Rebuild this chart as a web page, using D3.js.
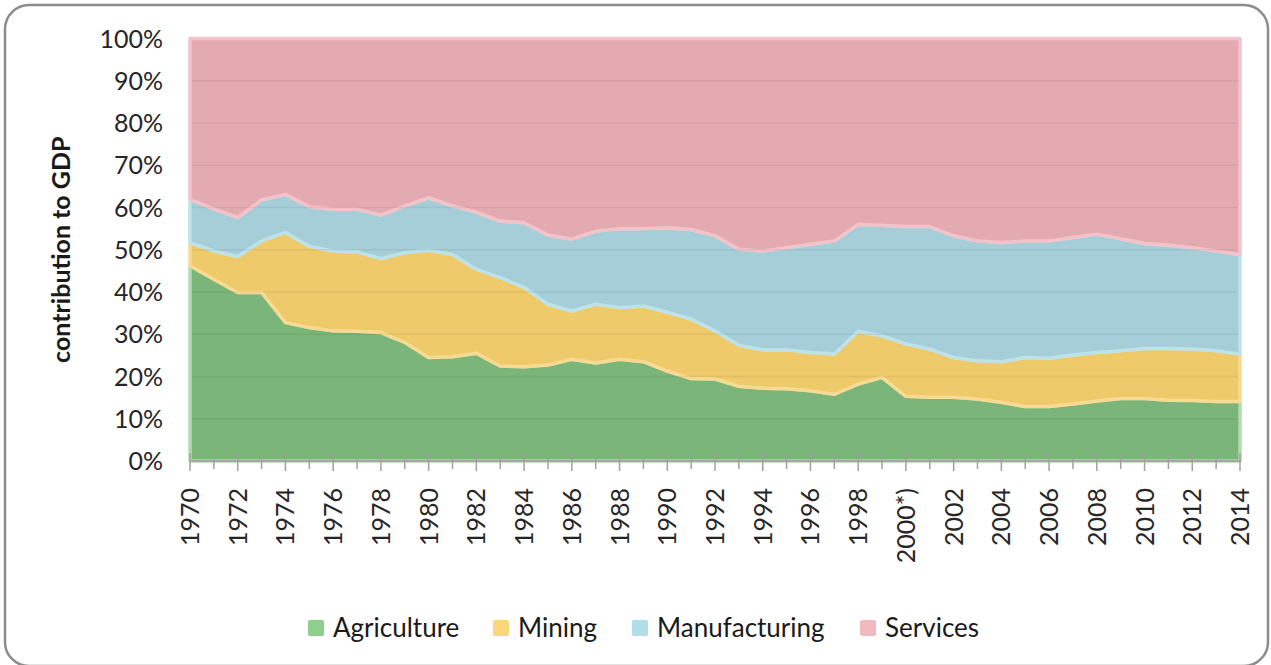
<!DOCTYPE html>
<html>
<head>
<meta charset="utf-8">
<script src="https://cdn.jsdelivr.net/npm/d3@7"></script>
<style>
  body { margin: 0; background: #fff; }
  svg { display: block; font-family: Lato, "Liberation Sans", sans-serif; }
</style>
</head>
<body>
<div id="chart"></div>
<script>
// sector shares of GDP, %
var years = [1970,1971,1972,1973,1974,1975,1976,1977,1978,1979,
             1980,1981,1982,1983,1984,1985,1986,1987,1988,1989,
             1990,1991,1992,1993,1994,1995,1996,1997,1998,1999,
             2000,2001,2002,2003,2004,2005,2006,2007,2008,2009,
             2010,2011,2012,2013,2014];
var agriculture = [46.2,43.0,39.9,39.9,32.8,31.6,30.8,30.7,30.4,28.1,
                   24.5,24.7,25.5,22.5,22.3,22.7,24.1,23.2,24.1,23.5,
                   21.3,19.5,19.4,17.7,17.2,17.1,16.6,15.8,18.2,19.8,
                   15.3,15.1,15.1,14.7,13.9,12.9,12.9,13.5,14.2,14.8,
                   14.8,14.4,14.3,14.1,14.1];
var mining = [5.5,6.7,8.5,12.2,21.3,19.2,18.9,18.8,17.5,21.2,
              25.4,24.2,19.9,20.9,18.8,14.4,11.4,13.9,12.2,13.2,
              13.9,14.1,11.4,9.7,9.1,9.2,9.1,9.5,12.5,9.8,
              12.4,11.4,9.4,9.0,9.6,11.6,11.4,11.6,11.5,11.3,
              11.8,12.2,12.2,12.0,11.2];
var manufacturing = [10.2,10.0,9.2,9.7,9.0,9.4,9.9,10.1,10.3,11.1,
                     12.4,11.5,13.5,13.4,15.3,16.4,17.0,17.3,18.7,18.3,
                     20.0,21.2,22.5,22.7,23.4,24.2,25.6,26.8,25.3,26.2,
                     27.8,29.0,28.8,28.4,28.2,27.6,27.8,27.8,28.0,26.5,
                     24.9,24.5,24.0,23.6,23.6];
var services = [38.1,40.3,42.4,38.2,36.9,39.8,40.4,40.4,41.8,39.6,
                37.7,39.6,41.1,43.2,43.6,46.5,47.5,45.6,45.0,45.0,
                44.8,45.2,46.7,49.9,50.3,49.5,48.7,47.9,44.0,44.2,
                44.5,44.5,46.7,47.9,48.3,47.9,47.9,47.1,46.3,47.4,
                48.5,48.9,49.5,50.3,51.1];

var sectors = ["Agriculture", "Mining", "Manufacturing", "Services"];
var xTickYears = [1970,1972,1974,1976,1978,1980,1982,1984,1986,1988,1990,1992,
                  1994,1996,1998,2000,2002,2004,2006,2008,2010,2012,2014];
var xTickText = ["1970","1972","1974","1976","1978","1980","1982","1984","1986","1988","1990","1992",
                 "1994","1996","1998","2000*)","2002","2004","2006","2008","2010","2012","2014"];
var yTicks = [0,10,20,30,40,50,60,70,80,90,100];

var fills   = ["#7bb57a", "#efca6b", "#a6ced8", "#e4aab2"];
var edges   = ["#b3dbb1", "#f8da92", "#bce2ea", "#f4c2c9"];
var swatch  = ["#8fcf8d", "#fbd67a", "#b0dde6", "#f3b9c2"];

var width = 1271, height = 665;

var svg = d3.select("#chart").append("svg")
    .attr("width", width)
    .attr("height", height);

// frame
svg.append("rect")
    .attr("x", 5).attr("y", 5)
    .attr("width", 1263).attr("height", 661)
    .attr("rx", 24)
    .attr("fill", "#fff")
    .attr("stroke", "#8c8c8c")
    .attr("stroke-width", 2.5);

var table = years.map(function(y, i) {
    return { year: y, Agriculture: agriculture[i], Mining: mining[i],
             Manufacturing: manufacturing[i], Services: services[i] };
});

var x = d3.scaleLinear().domain([1970, 2014]).range([190, 1240]);
var y = d3.scaleLinear().domain([0, 100]).range([461, 38.5]);

var color = d3.scaleOrdinal().domain(sectors).range(fills);
var edge = d3.scaleOrdinal().domain(sectors).range(edges);

var stacked = d3.stack().keys(sectors)(table);

var area = d3.area()
    .x(function(d) { return x(d.data.year); })
    .y0(function(d) { return y(d[0]); })
    .y1(function(d) { return y(d[1]); });

svg.selectAll(".layer")
    .data(stacked)
    .enter()
    .append("path")
    .attr("class", "layer")
    .attr("d", area)
    .attr("fill", function(d) { return color(d.key); })
    .attr("stroke", function(d) { return edge(d.key); })
    .attr("stroke-width", 3.5)
    .attr("stroke-linejoin", "round");

// gridlines show faintly through the areas
svg.append("g")
    .selectAll("line")
    .data(yTicks.slice(1, -1))
    .enter()
    .append("line")
    .attr("x1", 192).attr("x2", 1238)
    .attr("y1", function(d) { return y(d); })
    .attr("y2", function(d) { return y(d); })
    .attr("stroke", "rgba(0,0,0,0.06)")
    .attr("stroke-width", 1.5);

// y axis labels
svg.append("g")
    .selectAll("text")
    .data(yTicks)
    .enter()
    .append("text")
    .attr("x", 163)
    .attr("y", function(d) { return y(d); })
    .attr("dy", "0.36em")
    .attr("text-anchor", "end")
    .attr("font-size", 25)
    .attr("fill", "#262626")
    .text(function(d) { return d + "%"; });

svg.append("text")
    .attr("transform", "translate(70," + y(50) + ") rotate(-90)")
    .attr("text-anchor", "middle")
    .attr("font-size", 25)
    .attr("font-weight", "bold")
    .attr("fill", "#1a1a1a")
    .text("contribution to GDP");

// x axis
var xAxis = svg.append("g");
xAxis.append("line")
    .attr("x1", 190).attr("x2", 1241)
    .attr("y1", 461).attr("y2", 461)
    .attr("stroke", "#a6a6a6")
    .attr("stroke-width", 2);
xAxis.selectAll(".tick")
    .data(years)
    .enter()
    .append("line")
    .attr("class", "tick")
    .attr("x1", function(d) { return x(d); })
    .attr("x2", function(d) { return x(d); })
    .attr("y1", function(d) { return d % 2 === 0 ? 453 : 455; })
    .attr("y2", function(d) { return d % 2 === 0 ? 471 : 469; })
    .attr("stroke", "#a0a0a0")
    .attr("stroke-width", 1.5);

xAxis.selectAll(".xlab")
    .data(xTickYears)
    .enter()
    .append("text")
    .attr("class", "xlab")
    .attr("transform", function(d) { return "translate(" + x(d) + ",488) rotate(-90)"; })
    .attr("dy", "0.36em")
    .attr("text-anchor", "end")
    .attr("font-size", 25)
    .attr("fill", "#262626")
    .text(function(d, i) { return xTickText[i]; });

// legend
var legendX = [308, 493, 632, 860];
var legend = svg.append("g");
legend.selectAll("rect")
    .data(sectors)
    .enter()
    .append("rect")
    .attr("x", function(d, i) { return legendX[i]; })
    .attr("y", 620)
    .attr("width", 16).attr("height", 16)
    .attr("rx", 2)
    .attr("fill", function(d, i) { return swatch[i]; });
legend.selectAll("text")
    .data(sectors)
    .enter()
    .append("text")
    .attr("x", function(d, i) { return legendX[i] + 25; })
    .attr("y", 628)
    .attr("dy", "0.36em")
    .attr("font-size", 26)
    .attr("fill", "#1a1a1a")
    .text(function(d) { return d; });
</script>
</body>
</html>
